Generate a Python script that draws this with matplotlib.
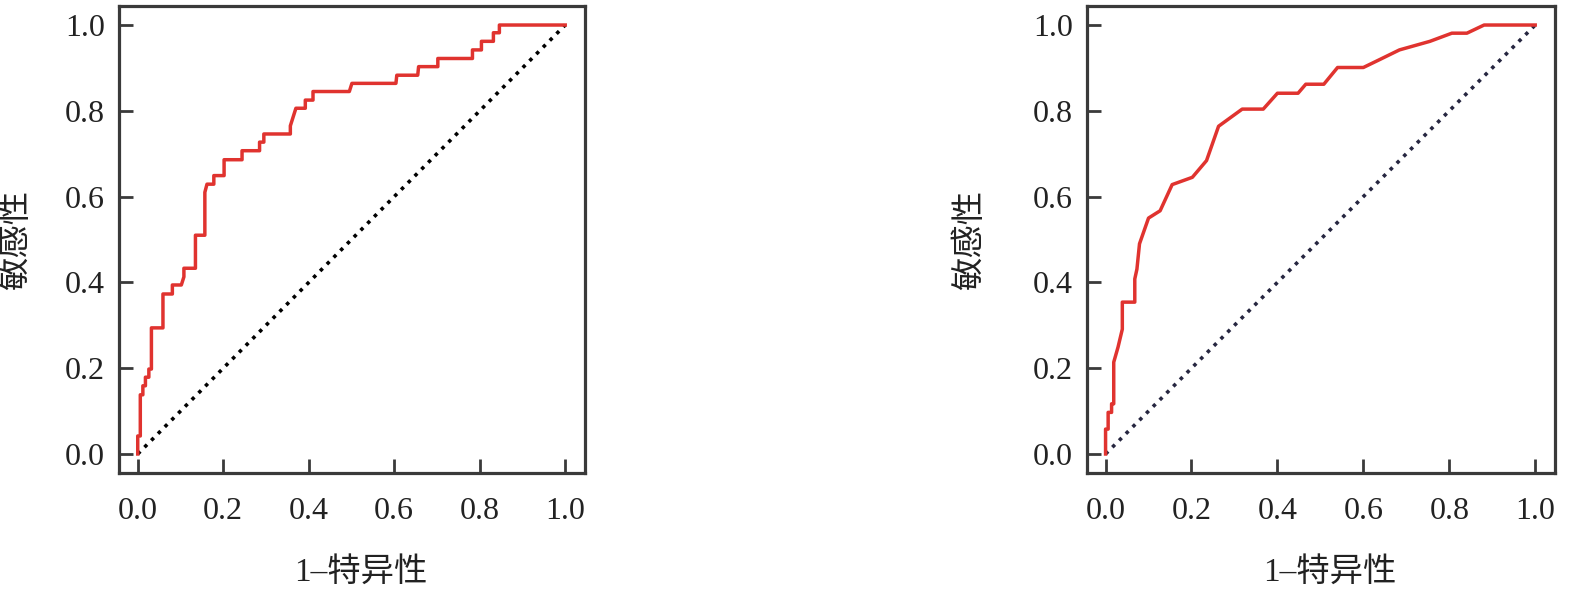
import matplotlib
matplotlib.use("Agg")
import matplotlib.pyplot as plt

plt.rcParams['font.family'] = ['Liberation Serif', 'Noto Sans CJK SC']

# ROC curve vertices, left panel
fpr_a = [0, 0, 0.006, 0.006, 0.012, 0.012, 0.018, 0.018, 0.026, 0.026, 0.032, 0.032,
         0.059, 0.059, 0.081, 0.081, 0.102, 0.108, 0.108, 0.135, 0.135, 0.157, 0.157,
         0.162, 0.178, 0.178, 0.202, 0.202, 0.244, 0.244, 0.285, 0.285, 0.295, 0.295,
         0.357, 0.357, 0.370, 0.392, 0.392, 0.410, 0.410, 0.495, 0.501, 0.604, 0.606,
         0.655, 0.657, 0.702, 0.702, 0.783, 0.783, 0.804, 0.804, 0.832, 0.832, 0.846,
         0.846, 1.0]
tpr_a = [0, 0.042, 0.042, 0.138, 0.138, 0.159, 0.159, 0.179, 0.179, 0.198, 0.198, 0.294,
         0.294, 0.373, 0.373, 0.394, 0.394, 0.413, 0.433, 0.433, 0.510, 0.510, 0.610,
         0.629, 0.629, 0.649, 0.649, 0.686, 0.686, 0.707, 0.707, 0.727, 0.727, 0.746,
         0.746, 0.765, 0.806, 0.806, 0.825, 0.825, 0.845, 0.845, 0.864, 0.864, 0.883,
         0.883, 0.903, 0.903, 0.922, 0.922, 0.942, 0.942, 0.962, 0.962, 0.982, 0.982,
         1.0, 1.0]

# ROC curve vertices, right panel
fpr_b = [0, 0, 0.006, 0.006, 0.014, 0.014, 0.019, 0.019, 0.029, 0.039, 0.039, 0.068,
         0.068, 0.073, 0.079, 0.100, 0.127, 0.155, 0.202, 0.235, 0.263, 0.318, 0.367,
         0.400, 0.448, 0.466, 0.508, 0.540, 0.600, 0.635, 0.684, 0.755, 0.806, 0.841,
         0.881, 1.0]
tpr_b = [0, 0.058, 0.058, 0.097, 0.097, 0.117, 0.117, 0.214, 0.249, 0.291, 0.354, 0.354,
         0.408, 0.431, 0.490, 0.550, 0.567, 0.628, 0.645, 0.684, 0.764, 0.804, 0.804,
         0.841, 0.841, 0.862, 0.862, 0.901, 0.901, 0.918, 0.942, 0.962, 0.981, 0.981,
         1.0, 1.0]

ticks = [0.0, 0.2, 0.4, 0.6, 0.8, 1.0]
tick_labels = ['0.0', '0.2', '0.4', '0.6', '0.8', '1.0']
xlabel = '1\u2013特异性'
ylabel = '敏感性'

spine_col = '#3a3a3a'
red = '#e0332f'

fig = plt.figure(figsize=(15.71, 5.90), dpi=100)
ax1 = fig.add_axes([0.0757, 0.1978, 0.2966, 0.7925])
ax2 = fig.add_axes([0.6917, 0.1978, 0.2981, 0.7925])


def draw_roc(ax, fpr, tpr, diag_color, ylab_x):
    ax.plot([0, 1], [0, 1], linestyle=':', color=diag_color, linewidth=2.6, zorder=2)
    ax.plot(fpr, tpr, color=red, linewidth=2.5, zorder=3)
    ax.set_xlim(-0.044, 1.046)
    ax.set_ylim(-0.045, 1.045)
    ax.set_xticks(ticks)
    ax.set_xticklabels(tick_labels)
    ax.set_yticks(ticks)
    ax.set_yticklabels(tick_labels)
    ax.tick_params(direction='in', length=10, width=2, color=spine_col,
                   labelsize=23, labelcolor='#222222')
    ax.tick_params(axis='x', pad=17)
    ax.tick_params(axis='y', pad=10)
    for s in ax.spines.values():
        s.set_linewidth(2.3)
        s.set_color(spine_col)
    ax.set_xlabel(xlabel, fontsize=24, color='#222222')
    ax.set_ylabel(ylabel, fontsize=24, color='#222222')
    ax.xaxis.set_label_coords(0.52, -0.212)
    ax.xaxis.label.set_va('center')
    ax.yaxis.set_label_coords(ylab_x, 0.5)
    ax.yaxis.label.set_va('center')


draw_roc(ax1, fpr_a, tpr_a, 'black', -0.219)
draw_roc(ax2, fpr_b, tpr_b, '#262640', -0.249)

fig.savefig('out.png', dpi=100)
